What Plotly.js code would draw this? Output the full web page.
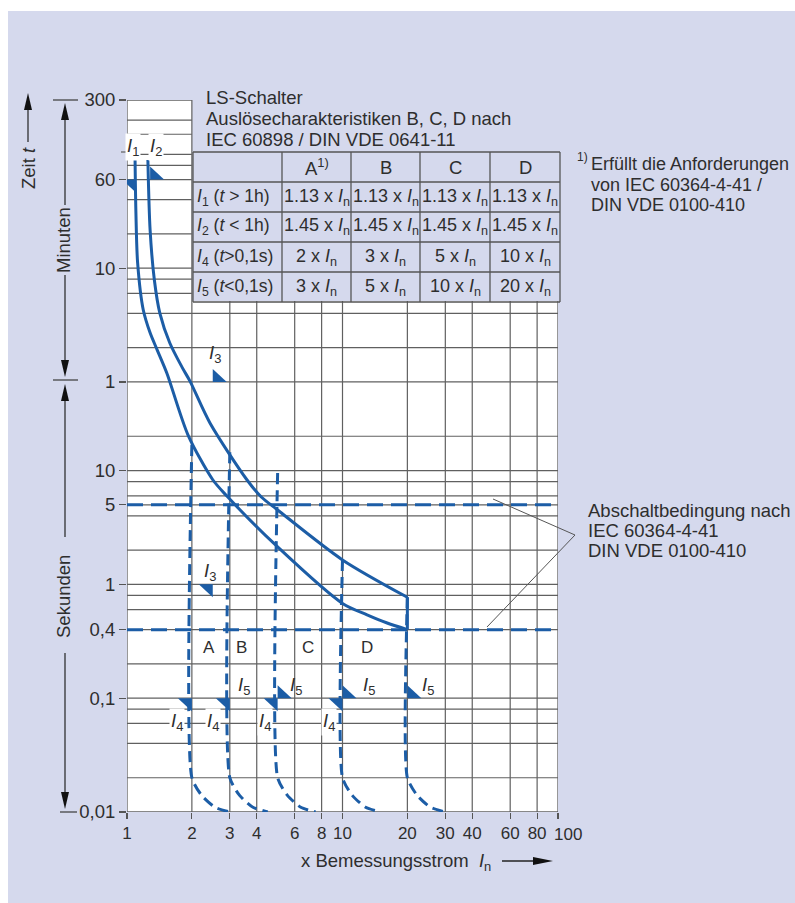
<!DOCTYPE html>
<html><head><meta charset="utf-8">
<script src="https://cdn.plot.ly/plotly-3.0.1.min.js"></script>
<style>html,body{margin:0;padding:0;background:#fff}</style>
</head><body><div id="chart" style="width:795px;height:903px"></div>
<script>
// ---------------- data ----------------
const xTickVals = [1,2,3,4,6,8,10,20,30,40,60,80,100];
const xTickText = ['1','2','3','4','6','8','10','20','30','40','60','80','100'];
const xGridVals = [2,3,4,6,8,10,20,30,40,60,80];
const yTickSeconds = [18000,3600,600,60,10,5,1,0.4,0.1,0.01];
const yTickText = ['300','60','10','1','10','5','1','0,4','0,1','0,01'];
const yGridSeconds = [12000,9000,6000,4800,3600,2400,1200,600,480,360,240,120,60,20,10,8,6,4,2,1,0.8,0.6,0.2,0.1,0.08,0.06,0.04,0.02];

// tripping band (multiples of In, seconds)
const i1Current = [1.09,1.10,1.12,1.19,1.28,1.38,1.53,1.92,2.5,2.9,5.0,10,13,16,20];
const i1Time    = [5350,1830,670,257,162,115,72,20.5,8.3,6.0,2.13,0.68,0.54,0.46,0.4];
const i2Current = [1.25,1.28,1.34,1.42,1.58,1.80,1.96,2.43,3.6,4.2,5.0,10,20];
const i2Time    = [5350,1300,470,242,132,81,61,26,8.3,5.85,4.5,1.64,0.77];

// table
const typeHeader = ['A<sup>1)</sup>','B','C','D'];
const typeLetters = ['A','B','C','D'];
const i1Multiple = ['1.13','1.13','1.13','1.13'];
const i2Multiple = ['1.45','1.45','1.45','1.45'];
const i4Multiple = [2,3,5,10];
const i5Multiple = [3,5,10,20];
const rowLabels = ['<i>I</i><sub>1</sub> (<i>t</i> &gt; 1h)','<i>I</i><sub>2</sub> (<i>t</i> &lt; 1h)',
                   '<i>I</i><sub>4</sub> (<i>t</i>&gt;0,1s)','<i>I</i><sub>5</sub> (<i>t</i>&lt;0,1s)'];

// instantaneous trip lines
const tripCurrent = [2,3,5,10,20];
const tripTop     = [16.8,14.5,9.5,1.64,0.77];
const tailRatio   = [1,1.11,1.28,1.5];
const tailTime    = [0.02,0.014,0.011,0.01];

// disconnection times (IEC 60364-4-41)
const abschaltTimes = [5,0.4];
// reference marks
const flagTimeI1I2 = 3600, flagTimeI4I5 = 0.1;
const i3Current = [2.5,2.5], i3Time = [60,1];

// ---------------- style / geometry ----------------
const W=795,H=903,L=127,R=558,T=100,B=812;
const LAV='#d5d9ed', BLUE='#1c5da6', GRID='#606060', TXT='#2e2e2e';
const F='"Liberation Sans", Arial, Helvetica, sans-serif';
const FS=18.5;
const yRange=[Math.log10(0.01), Math.log10(18000)];
const px = x => (x-L)/(R-L);
const py = y => (B-y)/(B-T);
const tFromPx = y => Math.pow(10, yRange[0] + py(y)*(yRange[1]-yRange[0]));
const tableBottomT = tFromPx(301);
const lg = Math.log10;

const shapes=[]; const ann=[];
// white page margins
shapes.push({type:'rect',xref:'paper',yref:'paper',x0:px(0),x1:px(W),y0:py(0),y1:py(11),fillcolor:'#fff',line:{width:0},layer:'below'});
shapes.push({type:'rect',xref:'paper',yref:'paper',x0:px(0),x1:px(8),y0:py(0),y1:py(H),fillcolor:'#fff',line:{width:0},layer:'below'});
// white grid area (L-shaped)
shapes.push({type:'rect',xref:'paper',yref:'paper',x0:0,x1:1,y0:0,y1:py(301),fillcolor:'#fff',line:{width:0},layer:'below'});
shapes.push({type:'rect',xref:'x',yref:'y',x0:1,x1:2,y0:tableBottomT,y1:18000,fillcolor:'#fff',line:{width:0},layer:'below'});

// grid lines
yGridSeconds.forEach(t=>{
  shapes.push({type:'line',xref:'x',yref:'y',x0:1,x1:(t>tableBottomT?2:100),y0:t,y1:t,line:{color:GRID,width:1.2},layer:'below'});
});
xGridVals.forEach(v=>{
  shapes.push({type:'line',xref:'x',yref:'y',x0:v,x1:v,y0:0.01,y1:(v<=2?18000:tableBottomT),line:{color:GRID,width:1.2},layer:'below'});
});
// frame
const frame=[[1,1,0.01,18000],[1,100,0.01,0.01],[100,100,0.01,tableBottomT],[1,2,18000,18000],[1,100,5,5],[1,100,0.4,0.4]];
frame.forEach(f=>shapes.push({type:'line',xref:'x',yref:'y',x0:f[0],x1:f[1],y0:f[2],y1:f[3],line:{color:GRID,width:1.3},layer:'below'}));
// small tick through the I1/I2 label line
shapes.push({type:'line',xref:'paper',yref:'paper',x0:px(121),x1:px(127),y0:py(152),y1:py(152),line:{color:GRID,width:1.2}});

// flags (pixel-sized triangles anchored at data points)
function flag(xv,tv,side){
  const p = side==='left' ? 'M0,0 L-14,0 L0,-13 Z' : 'M0,0 L0,13 L14,0 Z';
  shapes.push({type:'path',xref:'x',yref:'y',xsizemode:'pixel',ysizemode:'pixel',xanchor:xv,yanchor:tv,path:p,fillcolor:BLUE,line:{width:0},layer:'above'});
}
flag(i1Current[1],flagTimeI1I2,'left');
flag(i2Current[1],flagTimeI1I2,'right');
i4Multiple.forEach(v=>flag(v,flagTimeI4I5,'left'));
i5Multiple.slice(1).forEach(v=>flag(v,flagTimeI4I5,'right'));
flag(i3Current[0],i3Time[0],'right');
flag(i3Current[1],i3Time[1],'left');

// table
const colX=[193,282,351,420,490,560], rowY=[152,182,212,242,272,302];
const TL='#555';
colX.forEach(x=>shapes.push({type:'line',xref:'paper',yref:'paper',x0:px(x),x1:px(x),y0:py(rowY[0]),y1:py(rowY[5]),line:{color:TL,width:1.3}}));
rowY.forEach(y=>shapes.push({type:'line',xref:'paper',yref:'paper',x0:px(colX[0]),x1:px(colX[5]),y0:py(y),y1:py(y),line:{color:TL,width:1.3}}));
function txt(x,y,text,opt){ann.push(Object.assign({xref:'paper',yref:'paper',x:px(x),y:py(y),text:text,showarrow:false,font:{family:F,size:FS,color:TXT},xanchor:'center',yanchor:'middle'},opt||{}));}
typeHeader.forEach((h,i)=>txt((colX[i+1]+colX[i+2])/2,rowY[0]+15,h));
const rows=[i1Multiple,i2Multiple,i4Multiple,i5Multiple];
const CF={family:F,size:18,color:TXT};
rows.forEach((r,j)=>{
  txt(colX[0]+2,rowY[j+1]+15,rowLabels[j],{xanchor:'left',font:{family:F,size:17.5,color:TXT}});
  r.forEach((v,i)=>txt((colX[i+1]+colX[i+2])/2,rowY[j+1]+15,v+' x <i>I</i><sub>n</sub>',{font:CF}));
});
// title text
txt(204,98,'LS-Schalter',{xanchor:'left'});
txt(204,118,'Auslösecharakteristiken B, C, D nach',{xanchor:'left'});
txt(204,139,'IEC 60898 / DIN VDE 0641-11',{xanchor:'left'});
// footnote
const FN={family:F,size:18,color:TXT};
txt(575,157,'1)',{xanchor:'left',font:{family:F,size:12,color:TXT}});
txt(589,164,'Erfüllt die Anforderungen',{xanchor:'left',font:FN});
txt(589,185,'von IEC 60364-4-41 /',{xanchor:'left',font:FN});
txt(589,205,'DIN VDE 0100-410',{xanchor:'left',font:FN});
// Abschaltbedingung
txt(586,510,'Abschaltbedingung nach',{xanchor:'left'});
txt(586,530,'IEC 60364-4-41',{xanchor:'left'});
txt(586,550,'DIN VDE 0100-410',{xanchor:'left'});
shapes.push({type:'line',xref:'paper',yref:'paper',x0:px(575),y0:py(535),x1:px(493),y1:py(499),line:{color:'#555',width:1}});
shapes.push({type:'line',xref:'paper',yref:'paper',x0:px(575),y0:py(535),x1:px(487),y1:py(627),line:{color:'#555',width:1}});

// left axis annotations
function vline(x,y0,y1,w){shapes.push({type:'line',xref:'paper',yref:'paper',x0:px(x),x1:px(x),y0:py(y0),y1:py(y1),line:{color:'#222',width:w||1.2}});}
function hline(x0,x1,y){shapes.push({type:'line',xref:'paper',yref:'paper',x0:px(x0),x1:px(x1),y0:py(y),y1:py(y),line:{color:'#444',width:1.3}});}
function head(x,tip,dir){const b=tip+dir*17;shapes.push({type:'path',xref:'paper',yref:'paper',path:`M${px(x)},${py(tip)} L${px(x-4)},${py(b)} L${px(x+4)},${py(b)} Z`,fillcolor:'#111',line:{width:0}});}
vline(28,108,142); head(28,93,1);
txt(28,168,'Zeit <i>t</i>',{textangle:-90});
hline(53,78,100); hline(53,78,380); hline(60,77,812);
vline(65,118,205); head(65,103,1);
vline(65,275,360); head(65,377,-1);
txt(63,240,'Minuten',{textangle:-90});
vline(65,400,537); head(65,384,1);
vline(65,653,792); head(65,809,-1);
txt(63,597,'Sekunden',{textangle:-90});
// x-axis title
txt(396,862,'x Bemessungsstrom  <i>I</i><sub>n</sub>');
shapes.push({type:'line',xref:'paper',yref:'paper',x0:px(502),x1:px(535),y0:py(861),y1:py(861),line:{color:'#222',width:1.3}});
shapes.push({type:'path',xref:'paper',yref:'paper',path:`M${px(553)},${py(861)} L${px(533)},${py(857)} L${px(533)},${py(865)} Z`,fillcolor:'#111',line:{width:0}});

// data labels
function dl(xv,tv,text,dx,dy,opt){ann.push(Object.assign({xref:'x',yref:'y',x:lg(xv),y:lg(tv),xshift:dx,yshift:dy,text:text,showarrow:false,font:{family:F,size:FS,color:TXT},xanchor:'center',yanchor:'middle'},opt||{}));}
dl(i1Current[0],i1Time[0],'<i>I</i><sub>1</sub>',-2,13,{bgcolor:'#fff'});
dl(i2Current[0],i2Time[0],'<i>I</i><sub>2</sub>',8,13,{bgcolor:'#fff'});
dl(i3Current[0],i3Time[0],'<i>I</i><sub>3</sub>',2,28);
dl(i3Current[1],i3Time[1],'<i>I</i><sub>3</sub>',-3,12);
const letterShift=[17,12,30,24];
typeLetters.forEach((s,i)=>dl(i4Multiple[i],0.28,s,letterShift[i],0,{font:{family:F,size:17,color:TXT}}));
const i5Shift=[14,18,26,21];
i5Multiple.forEach((v,i)=>dl(v,flagTimeI4I5,'<i>I</i><sub>5</sub>',i5Shift[i],12));
const i4Shift=[-15,-17,-13,-14];
i4Multiple.forEach((v,i)=>dl(v,flagTimeI4I5,'<i>I</i><sub>4</sub>',i4Shift[i],-24,{bgcolor:'#fff'}));

// last x tick label drawn as text, nudged right so it clears "80"
const lastTick = xTickVals.length-1;
ann.push({xref:'x',yref:'paper',x:lg(xTickVals[lastTick]),y:0,xshift:10,yshift:-11,yanchor:'top',xanchor:'center',showarrow:false,
          text:xTickText[lastTick],font:{family:F,size:17,color:TXT}});
const axisTickText = xTickText.map((s,i)=>i===lastTick?'':s);

// ---------------- traces ----------------
const traces=[];
abschaltTimes.forEach(t=>traces.push({x:[1,100],y:[t,t],mode:'lines',line:{color:BLUE,width:3,dash:'16px,8px'},hoverinfo:'skip'}));
tripCurrent.forEach((c,i)=>{
  const xs=[c].concat(tailRatio.map(r=>c*r));
  const ys=[tripTop[i]].concat(tailTime);
  traces.push({x:xs,y:ys,mode:'lines',line:{color:BLUE,width:3,dash:'11px,6px',shape:'spline',smoothing:0.6},hoverinfo:'skip'});
});
traces.push({x:i1Current,y:i1Time,mode:'lines',line:{color:BLUE,width:3,shape:'spline',smoothing:0.8},hoverinfo:'skip'});
traces.push({x:i2Current,y:i2Time,mode:'lines',line:{color:BLUE,width:3,shape:'spline',smoothing:0.8},hoverinfo:'skip'});
traces.push({x:[i2Current[i2Current.length-1],i1Current[i1Current.length-1]],y:[i2Time[i2Time.length-1],i1Time[i1Time.length-1]],mode:'lines',line:{color:BLUE,width:3},hoverinfo:'skip'});

const axisFont={family:F,size:FS,color:TXT};
const layout={
  width:W,height:H,margin:{l:L,r:W-R,t:T,b:H-B,pad:0},
  paper_bgcolor:LAV,plot_bgcolor:'rgba(0,0,0,0)',showlegend:false,
  xaxis:{type:'log',range:[0,2],tickmode:'array',tickvals:xTickVals,ticktext:axisTickText,tickangle:0,ticks:'outside',ticklen:6,tickwidth:1.2,tickcolor:'#555',
         showgrid:false,zeroline:false,showline:false,tickfont:{family:F,size:17,color:TXT},fixedrange:true},
  yaxis:{type:'log',range:yRange,tickmode:'array',tickvals:yTickSeconds,ticktext:yTickText,ticks:'outside',ticklen:7,tickwidth:1.2,tickcolor:'#555',
         showgrid:false,zeroline:false,showline:false,tickfont:axisFont,fixedrange:true},
  shapes:shapes,annotations:ann
};
Plotly.newPlot('chart',traces,layout,{displayModeBar:false,staticPlot:true});
</script></body></html>
